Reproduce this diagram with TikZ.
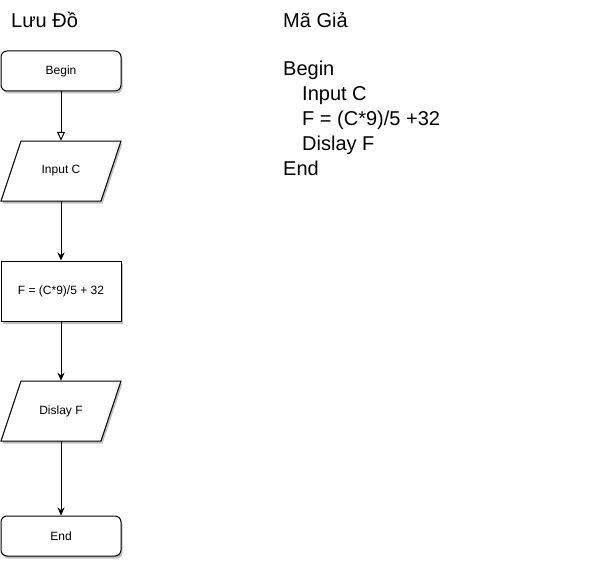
\documentclass[tikz,border=0pt]{standalone}
\usepackage{fontspec}
\setmainfont{Liberation Sans}
\usetikzlibrary{arrows.meta,shadows,calc}
\begin{document}
\begin{tikzpicture}[x=1pt,y=-1pt,
  shad/.style={drop shadow={shadow xshift=1.5pt,shadow yshift=-2.5pt,opacity=0.25,fill=black}},
  term/.style={draw,line width=1pt,rounded corners=6pt,minimum width=120pt,minimum height=40pt,fill=white,shad,font=\fontsize{12}{14}\selectfont,inner sep=0pt},
  proc/.style={draw,line width=1pt,minimum width=120pt,minimum height=60pt,fill=white,shad,font=\fontsize{12}{14}\selectfont,inner sep=0pt},
  iobox/.style={minimum width=120pt,minimum height=60pt,inner sep=0pt,font=\fontsize{12}{14}\selectfont},
  para/.style={draw,line width=1pt,fill=white,shad},
  flow/.style={line width=1pt,-{Stealth[length=8pt,width=7pt,inset=2.5pt]}},
  flowopen/.style={line width=1pt,-{Triangle[open,length=9pt,width=8pt]}},
  big/.style={font=\fontsize{20}{24}\selectfont,inner sep=0pt,anchor=base west}
]
\useasboundingbox (0,0) rectangle (602,567);

\node[big] (t1) at (11,27.5) {Lưu Đồ};
\node[big] (t2) at (283,27.5) {Mã Giả};

\node[big] (p1) at (283,75.5) {Begin};
\node[big] (p2) at (302,100.7) {Input C};
\node[big] (p3) at (302,125.7) {F = (C*9)/5 +32};
\node[big] (p4) at (302,150.7) {Dislay F};
\node[big] (p5) at (283,175.7) {End};

\node[term] (begin) at (61,71) {Begin};

\coordinate (inc) at (61,171);
\draw[para] ($(inc)+(-40,-30)$) -- ($(inc)+(60,-30)$) -- ($(inc)+(40,30)$) -- ($(inc)+(-60,30)$) -- cycle;
\node[iobox] (input) at (inc) {Input C};

\node[proc] (calc) at (61,291) {F = (C*9)/5 + 32};

\coordinate (outc) at (61,411);
\draw[para] ($(outc)+(-40,-30)$) -- ($(outc)+(60,-30)$) -- ($(outc)+(40,30)$) -- ($(outc)+(-60,30)$) -- cycle;
\node[iobox] (output) at (outc) {Dislay F};

\node[term] (end) at (61,536) {End};

\draw[flowopen] (begin) -- (input);
\draw[flow] (input) -- (calc);
\draw[flow] (calc) -- (output);
\draw[flow] (output) -- (end);
\end{tikzpicture}
\end{document}
